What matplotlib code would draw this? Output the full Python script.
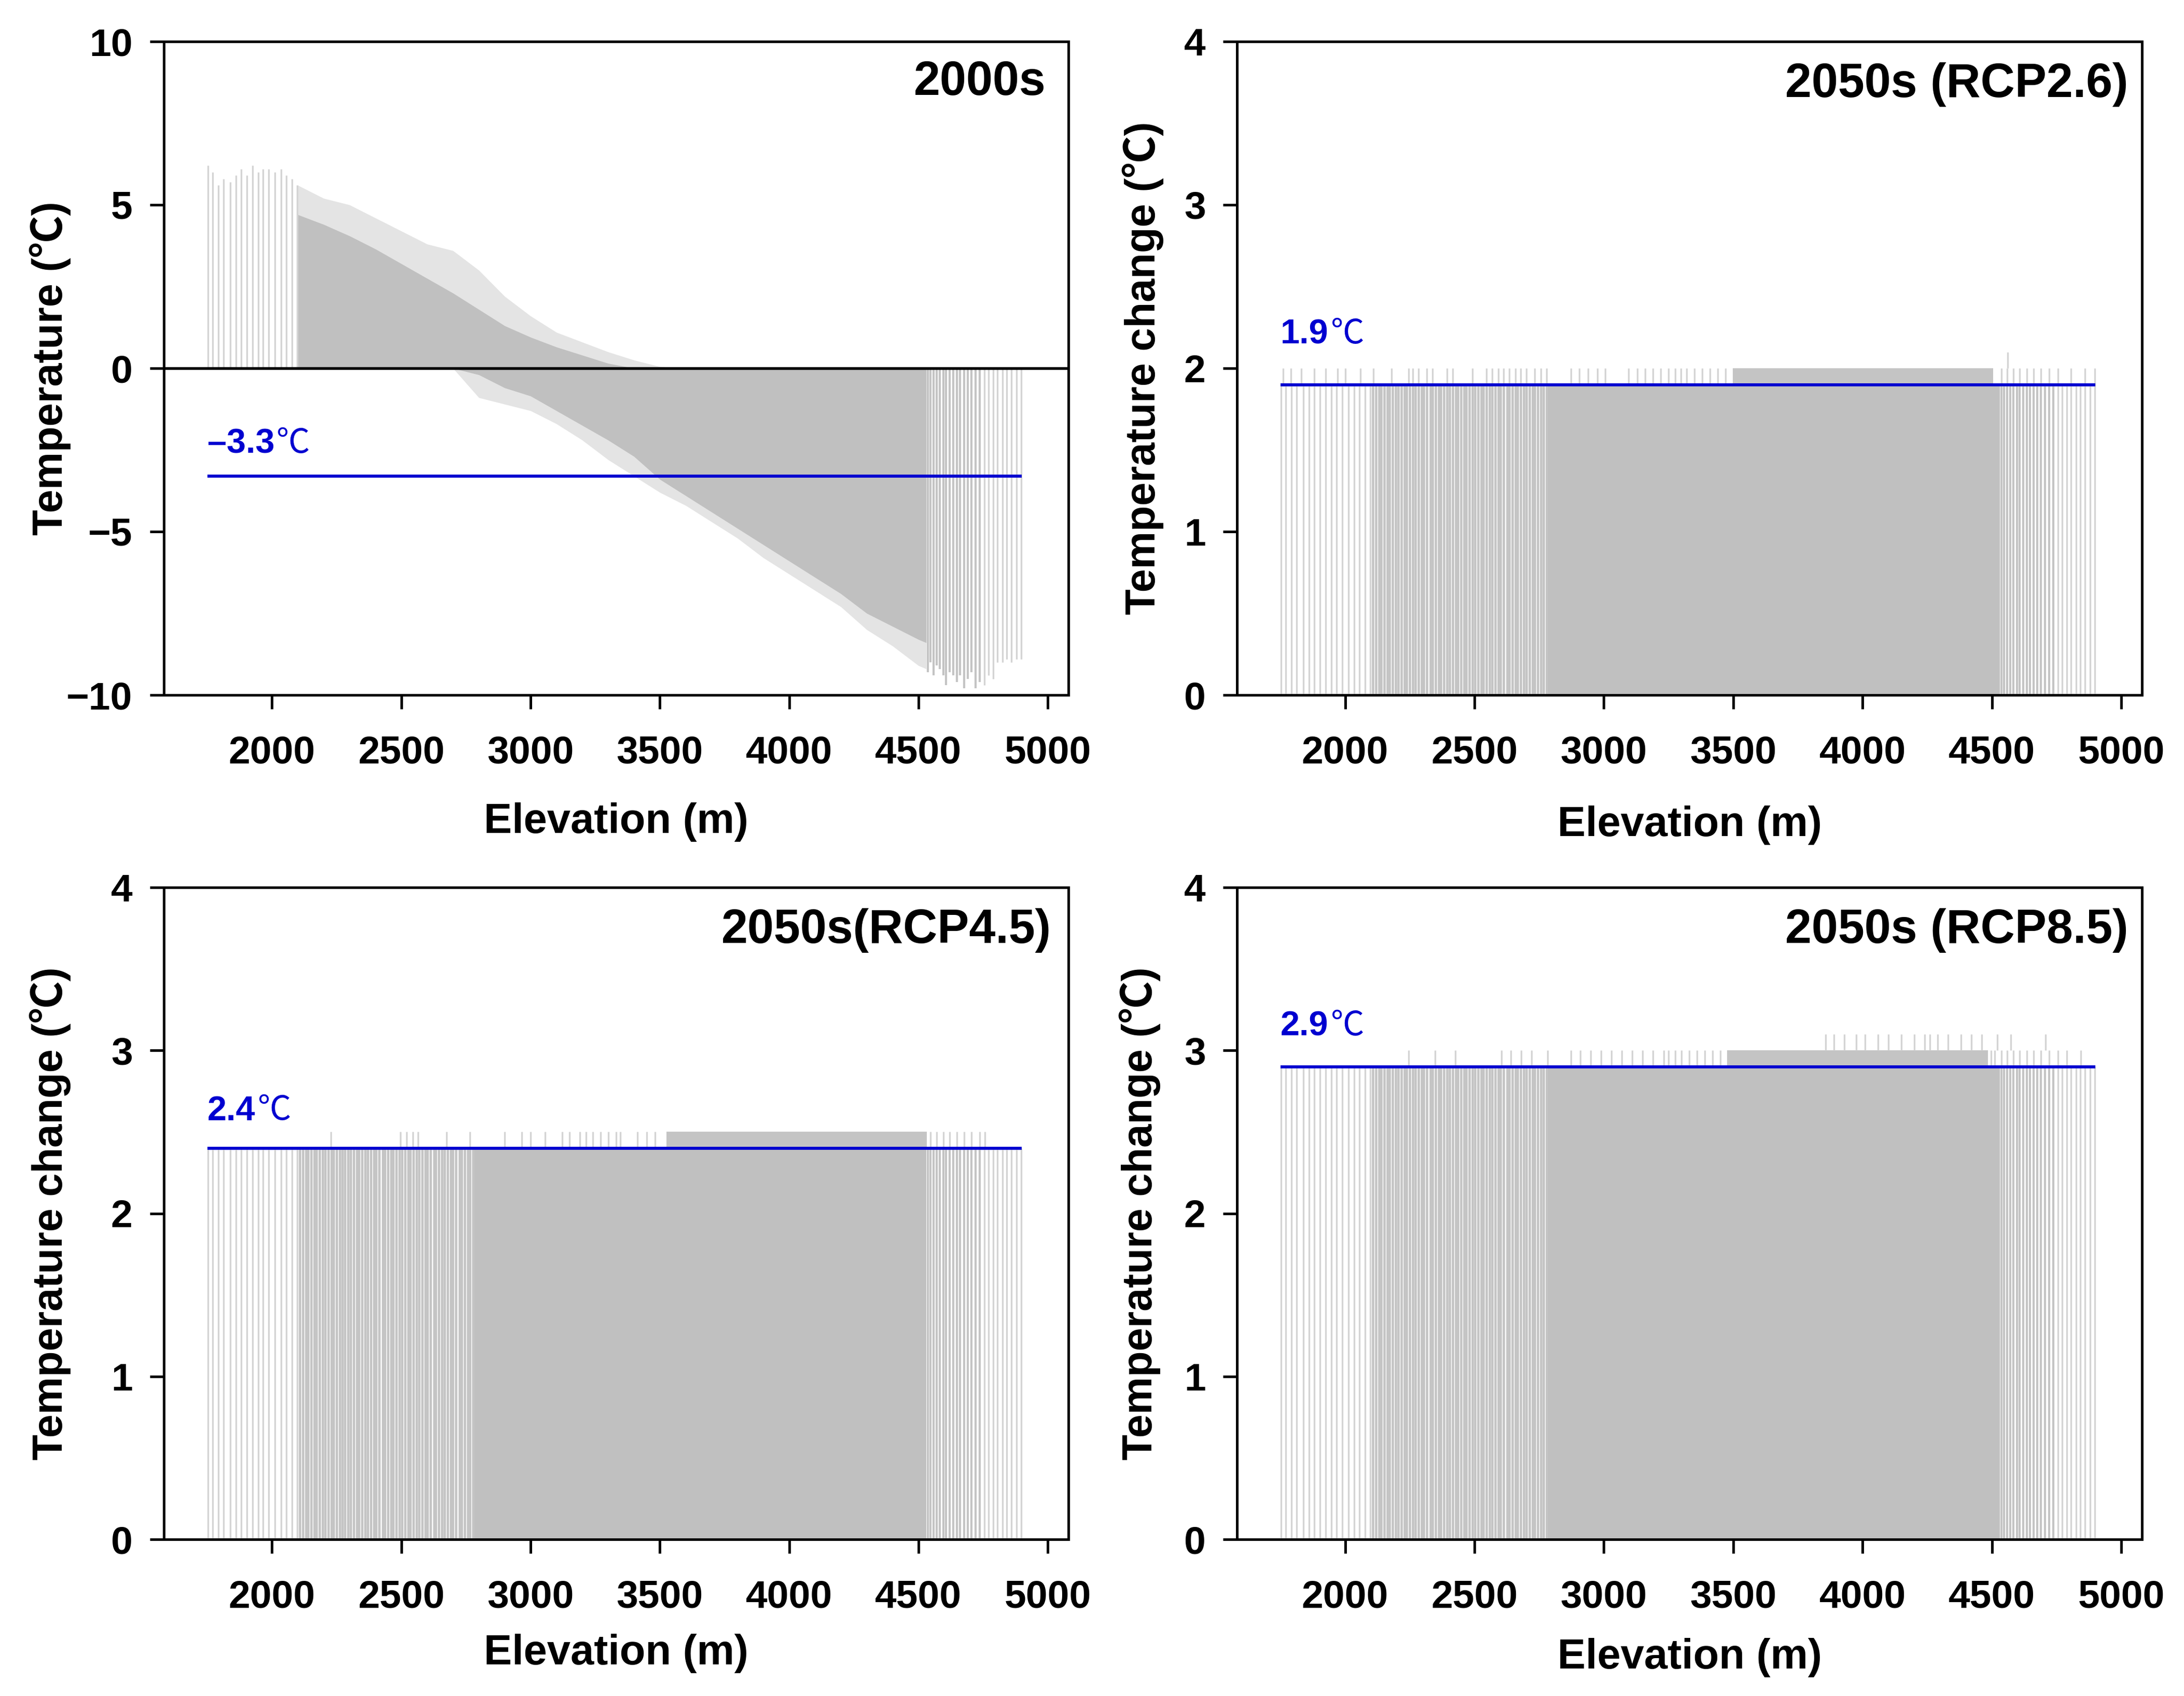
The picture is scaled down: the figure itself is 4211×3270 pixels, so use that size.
import matplotlib
matplotlib.use("Agg")
import matplotlib.pyplot as plt

plt.rcParams['font.family'] = ['Liberation Sans', 'Noto Sans CJK SC', 'DejaVu Sans']
plt.rcParams['font.weight'] = 'bold'

# ---------------- data ----------------
x_ticks = [2000, 2500, 3000, 3500, 4000, 4500, 5000]
y_ticks_2000s = [-10, -5, 0, 5, 10]
y_ticks_change = [0, 1, 2, 3, 4]

# grid-cell elevations in the sparse / medium parts of the elevation range
cells_light_low = [1752, 1771, 1793, 1812, 1838, 1861, 1880, 1903, 1924, 1947, 1966,
                   1988, 2012, 2035, 2056, 2078, 2097]
cells_medium_low = [2108, 2119, 2131, 2140, 2152, 2163, 2171, 2184, 2196, 2205, 2217,
                    2230, 2238, 2250, 2262, 2271, 2283, 2295, 2304, 2316, 2329, 2337,
                    2349, 2361, 2370, 2382, 2394, 2403, 2415, 2428, 2436, 2448, 2460,
                    2469, 2481, 2493, 2502, 2514, 2527, 2535, 2547, 2559, 2568, 2580,
                    2592, 2601, 2613, 2626, 2634, 2646, 2658, 2667, 2679, 2691, 2700,
                    2712, 2725, 2733, 2745, 2757, 2766, 2778]
cells_medium_high = [4536, 4547, 4558, 4571, 4583, 4596, 4607, 4621, 4634, 4648, 4661,
                     4676, 4690, 4705, 4721, 4738]
cells_light_high = [4756, 4771, 4789, 4806, 4825, 4841, 4860, 4879, 4898]

# ---- 2000s temperature ----
env_elev = [2100, 2200, 2300, 2400, 2500, 2600, 2700, 2800, 2900, 3000, 3100, 3200,
            3300, 3400, 3500, 3600, 3700, 3800, 3900, 4000, 4100, 4200, 4300, 4400,
            4500, 4530]
t2000_dense_top = [4.7, 4.4, 4.05, 3.65, 3.2, 2.75, 2.3, 1.8, 1.3, 0.95, 0.65, 0.4,
                   0.15, 0, 0, 0, 0, 0, 0, 0, 0, 0, 0, 0, 0, 0]
t2000_outer_top = [5.6, 5.2, 5.0, 4.6, 4.2, 3.8, 3.6, 3.0, 2.2, 1.6, 1.1, 0.8,
                   0.5, 0.25, 0.05, 0, 0, 0, 0, 0, 0, 0, 0, 0, 0, 0]
t2000_dense_bot = [0, 0, 0, 0, 0, 0, 0, -0.2, -0.6, -0.85, -1.3, -1.75,
                   -2.2, -2.7, -3.4, -3.9, -4.4, -4.9, -5.4, -5.9, -6.4, -6.9, -7.5, -7.9,
                   -8.3, -8.4]
t2000_outer_bot = [0, 0, 0, 0, 0, 0, 0, -0.9, -1.1, -1.3, -1.7, -2.2,
                   -2.8, -3.3, -3.8, -4.2, -4.7, -5.2, -5.8, -6.3, -6.8, -7.3, -8.0, -8.5,
                   -9.1, -9.2]
t2000_light_low = [6.2, 6.0, 5.6, 5.8, 5.7, 5.9, 6.1, 5.9, 6.2, 6.0, 6.1, 6.1, 6.0,
                   6.1, 5.9, 5.8, 5.6]
t2000_medium_high = [-9.3, -9.0, -9.4, -9.1, -9.2, -9.4, -9.7, -9.3, -9.4, -9.6, -9.4,
                     -9.8, -9.5, -9.3, -9.8, -9.6]
t2000_light_high = [-9.7, -9.4, -9.5, -9.0, -9.0, -8.9, -9.0, -8.9, -8.9]
mean_2000s = -3.3

# ---- 2050s temperature change ----
scen_titles = ['2050s (RCP2.6)', '2050s(RCP4.5)', '2050s (RCP8.5)']
scen_mean = [1.9, 2.4, 2.9]
scen_base = [1.9, 2.4, 2.9]          # value reached by most cells
scen_up = [2.0, 2.5, 3.0]            # value reached by the warmer cells
solid_start, solid_end = 2780, 4530
scen_up_block = [(3498, 4505), (3526, 4533), (3477, 4484)]
scen_up_cells = [
    [1760, 1790, 1830, 1880, 1925, 1970, 2000, 2060, 2110, 2180, 2246, 2262, 2283,
     2316, 2337, 2394, 2415, 2493, 2547, 2568, 2592, 2613, 2634, 2658, 2679, 2700,
     2733, 2757, 2778, 2872, 2905, 2940, 2975, 3006, 3096, 3130, 3160, 3190, 3220,
     3250, 3275, 3297, 3320, 3350, 3380, 3410, 3440, 3470, 4536, 4558, 4583, 4607,
     4634, 4661, 4690, 4721, 4756, 4806, 4860, 4898],
    [2228, 2496, 2520, 2545, 2564, 2676, 2765, 2899, 2966, 3000, 3056, 3123, 3150,
     3190, 3215, 3240, 3270, 3300, 3330, 3347, 3414, 3450, 3481, 4547, 4571, 4596,
     4621, 4648, 4676, 4705, 4738, 4757],
    [2246, 2347, 2426, 2604, 2640, 2680, 2720, 2783, 2873, 2910, 2950, 2990, 3030,
     3070, 3110, 3150, 3190, 3231, 3250, 3275, 3300, 3330, 3360, 3390, 3420, 3450,
     4496, 4510, 4536, 4558, 4583, 4607, 4634, 4661, 4690, 4721, 4756, 4789, 4843],
]
scen_top_value = [2.1, None, 3.1]
scen_top_cells = [[4560], [],
                  [3857, 3890, 3930, 3975, 4010, 4060, 4100, 4150, 4200, 4240, 4260,
                   4290, 4330, 4380, 4420, 4460, 4520, 4573, 4708]]
mean_line_range = (1750, 4900)

# ---------------- style ----------------
GRAY = '#c0c0c0'
GRAY_MED = '#c4c4c4'
GRAY_LIGHT = '#d4d4d4'
GRAY_FRINGE = '#e4e4e4'
BLUE = '#0000d0'
TICK_FS = 18
LAB_FS = 19.5
TITLE_FS = 22
ANN_FS = 16

W, H = 4211, 3270
fig = plt.figure(figsize=(W / 300, H / 300), dpi=300)

ax_pos = [
    [316 / W, 1 - 1340 / H, 1744 / W, 1260 / H],
    [2385 / W, 1 - 1340 / H, 1745 / W, 1260 / H],
    [316 / W, 1 - 2968 / H, 1744 / W, 1257 / H],
    [2385 / W, 1 - 2968 / H, 1745 / W, 1257 / H],
]
ylab_x = [-0.1256, -0.1037, -0.1256, -0.107]
xlab_pad = [14.5, 16.0, 8.5, 10.5]
title_xy = [(0.975, 0.918), (0.985, 0.915), (0.981, 0.915), (0.985, 0.915)]
ann_y = [-2.6, 2.15, 2.57, 3.09]

axes = [fig.add_axes(p) for p in ax_pos]


def style_axis(ax, i, yticks, ylabel):
    ax.set_xlim(1582, 5080)
    ax.set_ylim(yticks[0], yticks[-1])
    ax.set_xticks(x_ticks)
    ax.set_yticks(yticks)
    ax.tick_params(direction='out', length=6.5, width=1.2, labelsize=TICK_FS,
                   top=False, right=False)
    ax.tick_params(axis='x', pad=12)
    ax.tick_params(axis='y', pad=8)
    for s in ax.spines.values():
        s.set_linewidth(1.2)
    for lab in ax.get_xticklabels() + ax.get_yticklabels():
        lab.set_fontweight('bold')
    ax.set_xlabel('Elevation (m)', fontsize=LAB_FS, fontweight='bold', labelpad=xlab_pad[i])
    ax.set_ylabel(ylabel, fontsize=LAB_FS, fontweight='bold', va='center')
    ax.yaxis.set_label_coords(ylab_x[i], 0.5)


def mean_label(ax, i, value, text):
    ax.hlines(value, mean_line_range[0], mean_line_range[1], colors=BLUE,
              linewidth=1.4, zorder=4)
    t = ax.text(mean_line_range[0], ann_y[i], text, color=BLUE, fontsize=ANN_FS,
                fontweight='bold', ha='left', va='baseline', zorder=5)
    ax.annotate('℃', xy=(1, 0), xycoords=t, xytext=(1.0, 0), textcoords='offset points',
                ha='left', va='bottom', color=BLUE, fontsize=ANN_FS - 0.5,
                fontweight='normal', family=['Noto Sans CJK SC', 'DejaVu Sans'], zorder=5)


# ---- panel 1 : 2000s ----
ax = axes[0]
ax.fill_between(env_elev, t2000_outer_bot, t2000_outer_top, color=GRAY_FRINGE,
                linewidth=0, zorder=1)
ax.fill_between(env_elev, t2000_dense_bot, t2000_dense_top, color=GRAY,
                linewidth=0, zorder=2)
ax.vlines(cells_light_low, 0, t2000_light_low, colors=GRAY_LIGHT, linewidth=0.8, zorder=2)
ax.vlines(cells_medium_high, 0, t2000_medium_high, colors=GRAY_MED, linewidth=1.0, zorder=2)
ax.vlines(cells_light_high, 0, t2000_light_high, colors=GRAY_LIGHT, linewidth=0.8, zorder=2)
ax.axhline(0, color='black', linewidth=1.3, zorder=3)
mean_label(ax, 0, mean_2000s, '–3.3')
ax.text(*title_xy[0], '2000s', transform=ax.transAxes, ha='right', va='baseline',
        fontsize=TITLE_FS, fontweight='bold')
style_axis(ax, 0, y_ticks_2000s, 'Temperature (℃)')

# ---- panels 2-4 : 2050s ----
for k in range(3):
    i = k + 1
    ax = axes[i]
    base = scen_base[k]
    up = scen_up[k]
    ax.fill_between([solid_start, solid_end], 0, base, color=GRAY, linewidth=0, zorder=2)
    b0, b1 = scen_up_block[k]
    ax.fill_between([b0, b1], base, up, color=GRAY_MED, linewidth=0, zorder=2)
    ax.vlines(cells_medium_low, 0, base, colors=GRAY_MED, linewidth=1.1, zorder=2)
    ax.vlines(cells_medium_high, 0, base, colors=GRAY_MED, linewidth=1.0, zorder=2)
    ax.vlines(cells_light_low, 0, base, colors=GRAY_LIGHT, linewidth=0.8, zorder=2)
    ax.vlines(cells_light_high, 0, base, colors=GRAY_LIGHT, linewidth=0.8, zorder=2)
    ax.vlines(scen_up_cells[k], base, up, colors=GRAY_LIGHT, linewidth=0.8, zorder=2)
    if scen_top_value[k] is not None:
        ax.vlines(scen_top_cells[k], up, scen_top_value[k], colors=GRAY_LIGHT,
                  linewidth=0.8, zorder=2)
    mean_label(ax, i, scen_mean[k], f'{scen_mean[k]:.1f}')
    ax.text(*title_xy[i], scen_titles[k], transform=ax.transAxes, ha='right',
            va='baseline', fontsize=TITLE_FS, fontweight='bold')
    style_axis(ax, i, y_ticks_change, 'Temperature change (℃)')

fig.savefig('out.png', dpi=300)
